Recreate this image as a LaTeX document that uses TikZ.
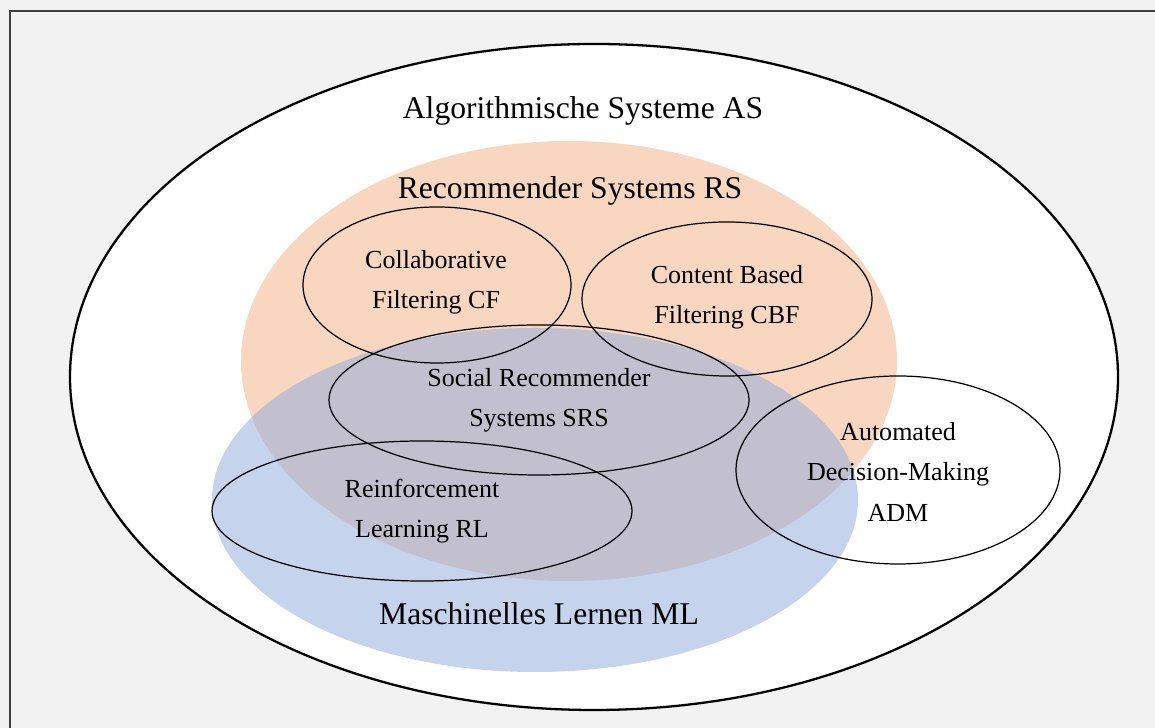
\documentclass[tikz,border=0pt]{standalone}
\usepackage{fontspec}
\setmainfont{Liberation Serif}
\usepackage{tikz}
\definecolor{figBg}{RGB}{242,242,242}
\definecolor{figFrame}{RGB}{64,64,64}
\definecolor{figRS}{RGB}{248,214,192}
\definecolor{figML}{RGB}{197,211,236}
\definecolor{figMix}{RGB}{194,191,207}
\tikzset{
  bigLabel/.style={font=\fontsize{18}{22}\selectfont, inner sep=0pt},
  subLabel/.style={font=\fontsize{14.8}{22.8}\selectfont, align=center, inner sep=0pt},
  subSet/.style={line width=0.7pt}
}

\begin{document}
\begin{tikzpicture}
\useasboundingbox (0,0) rectangle (23.1,14.56);
\fill[figBg] (0,0) rectangle (23.1,14.56);
\draw[figFrame, line width=1.4pt] (0.2,0) -- (0.2,14.34) -- (23.1,14.34);
% ===== outer set: algorithmic systems =====
\fill[white] (11.88,7.02) ellipse [x radius=10.48, y radius=6.66];
\draw[line width=1.3pt] (11.88,7.02) ellipse [x radius=10.48, y radius=6.66];
% ===== RS and ML, with their overlap =====
\fill[figRS] (11.38,7.34) ellipse [x radius=6.56, y radius=4.40];
\fill[figML] (10.70,4.56) ellipse [x radius=6.46, y radius=3.44];
\begin{scope}
\clip (11.38,7.34) ellipse [x radius=6.56, y radius=4.40];
\fill[figMix] (10.70,4.56) ellipse [x radius=6.46, y radius=3.44];
\end{scope}
% ===== subsets (CF, CBF, SRS, RL, ADM) =====
\foreach \cx/\cy/\rx/\ry in {8.74/8.86/2.68/1.56, 14.54/8.58/2.90/1.54,
  10.78/6.56/4.20/1.50, 8.44/4.34/4.20/1.40, 17.96/5.16/3.24/1.88}{
  \draw[subSet] (\cx,\cy) ellipse [x radius=\rx, y radius=\ry];
}
% labels
\node[bigLabel] (as) at (11.66,12.34) {Algorithmische Systeme AS};
\node[bigLabel] (rs) at (11.40,10.74) {Recommender Systems RS};
\node[bigLabel] (ml) at (10.78,2.28) {Maschinelles Lernen ML};
\node[subLabel] (cf) at (8.72,8.92) {Collaborative\\Filtering CF};
\node[subLabel] (cbf) at (14.54,8.62) {Content Based\\Filtering CBF};
\node[subLabel] (srs) at (10.78,6.56) {Social Recommender\\Systems SRS};
\node[subLabel] (rl) at (8.44,4.34) {Reinforcement\\Learning RL};
\node[subLabel] (adm) at (17.96,5.12) {Automated\\Decision-Making\\ADM};
\end{tikzpicture}
\end{document}
